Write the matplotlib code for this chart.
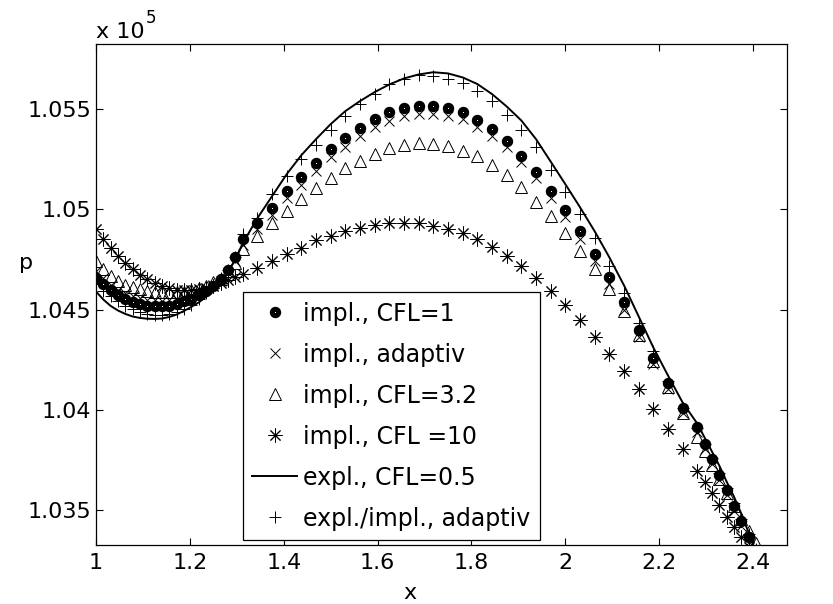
import matplotlib
matplotlib.use('Agg')
import matplotlib.pyplot as plt
import numpy as np

# grid points (fine at both ends, coarse in the middle)
x = [1.0, 1.015625, 1.03125, 1.046875, 1.0625, 1.078125, 1.09375, 1.109375, 1.125,
     1.140625, 1.15625, 1.171875, 1.1875, 1.203125, 1.21875, 1.234375, 1.25, 1.265625,
     1.28125, 1.296875, 1.3125,
     1.34375, 1.375, 1.40625, 1.4375, 1.46875, 1.5, 1.53125, 1.5625, 1.59375, 1.625,
     1.65625, 1.6875, 1.71875, 1.75, 1.78125, 1.8125, 1.84375, 1.875, 1.90625, 1.9375,
     1.96875, 2.0, 2.03125, 2.0625, 2.09375, 2.125, 2.15625, 2.1875, 2.21875, 2.25,
     2.28125, 2.296875, 2.3125, 2.328125, 2.34375, 2.359375, 2.375, 2.390625, 2.40625]

# pressure in Pa
p_impl_cfl1 = [104659, 104625, 104597, 104572, 104554, 104537, 104527, 104520, 104517, 104517,
               104520, 104529, 104540, 104554, 104570, 104590, 104615, 104650, 104695, 104760, 104850,
               104930, 105005, 105092, 105161, 105230, 105300, 105354, 105404, 105449, 105484,
               105504, 105514, 105515, 105504, 105484, 105445, 105399, 105340, 105265, 105184,
               105092, 104997, 104892, 104779, 104661, 104537, 104397, 104259, 104132, 104009,
               103914, 103829, 103754, 103675, 103600, 103520, 103445, 103364, 103285]

p_impl_adapt = [104691, 104655, 104624, 104599, 104581, 104566, 104556, 104549, 104545, 104544,
                104546, 104551, 104559, 104570, 104584, 104601, 104623, 104640, 104680, 104740, 104820,
                104900, 104970, 105055, 105120, 105190, 105263, 105313, 105364, 105409, 105442,
                105464, 105475, 105475, 105467, 105450, 105409, 105364, 105309, 105234, 105154,
                105055, 104960, 104850, 104740, 104625, 104500, 104365, 104230, 104105, 103985,
                103890, 103805, 103730, 103650, 103575, 103495, 103420, 103340, 103270]

p_impl_cfl32 = [104740, 104700, 104665, 104640, 104623, 104610, 104600, 104593, 104588, 104585,
                104585, 104585, 104588, 104595, 104605, 104618, 104635, 104650, 104690, 104730, 104800,
                104865, 104934, 104990, 105050, 105104, 105155, 105204, 105242, 105275, 105304,
                105320, 105329, 105325, 105314, 105292, 105264, 105220, 105170, 105109, 105037,
                104967, 104884, 104792, 104700, 104600, 104492, 104375, 104242, 104114, 103984,
                103865, 103795, 103725, 103655, 103585, 103520, 103455, 103395, 103335]

p_impl_cfl10 = [104900, 104850, 104805, 104765, 104733, 104700, 104673, 104650, 104630, 104615,
                104605, 104598, 104595, 104595, 104600, 104608, 104618, 104630, 104645, 104660, 104678,
                104709, 104742, 104775, 104809, 104845, 104868, 104892, 104908, 104923, 104932,
                104932, 104932, 104917, 104903, 104882, 104850, 104813, 104769, 104717, 104659,
                104592, 104523, 104447, 104365, 104280, 104195, 104105, 104004, 103904, 103804,
                103692, 103640, 103585, 103525, 103467, 103415, 103365, 103315, 103265]

p_expl_cfl05 = [104590, 104550, 104518, 104495, 104478, 104465, 104458, 104454, 104453, 104455,
                104463, 104475, 104493, 104513, 104535, 104563, 104595, 104635, 104685, 104750, 104830,
                104955, 105065, 105175, 105270, 105350, 105425, 105490, 105540, 105585, 105623,
                105653, 105673, 105684, 105678, 105658, 105625, 105575, 105513, 105443, 105350,
                105238, 105125, 105010, 104890, 104760, 104620, 104465, 104310, 104170, 104035,
                103930, 103860, 103790, 103720, 103640, 103565, 103480, 103385, 103285]

p_expl_impl_adapt = [104625, 104592, 104565, 104540, 104520, 104503, 104488, 104478, 104473, 104473,
                     104478, 104488, 104505, 104525, 104550, 104580, 104615, 104655, 104695, 104760, 104875,
                     104959, 105075, 105165, 105250, 105320, 105398, 105464, 105523, 105575, 105623,
                     105652, 105669, 105667, 105652, 105630, 105589, 105542, 105469, 105394, 105311,
                     105194, 105085, 104975, 104855, 104717, 104584, 104434, 104292, 104142, 104009,
                     103910, 103830, 103760, 103685, 103610, 103535, 103455, 103380, 103305]

xticks = [1, 1.2, 1.4, 1.6, 1.8, 2, 2.2, 2.4]
xtick_labels = ['1', '1.2', '1.4', '1.6', '1.8', '2', '2.2', '2.4']
yticks = [1.035, 1.04, 1.045, 1.05, 1.055]
ytick_labels = ['1.035', '1.04', '1.045', '1.05', '1.055']

scale = 1e5
fs = 16

fig = plt.figure(figsize=(8.33, 6.04), dpi=100)
ax = fig.add_axes([0.1152, 0.0977, 0.8295, 0.8295])

ax.plot(x, np.array(p_impl_cfl1) / scale, ls='none', marker='o', ms=4.6, mew=3.6,
        mec='k', mfc='w', label='impl., CFL=1')
ax.plot(x, np.array(p_impl_adapt) / scale, ls='none', marker='x', ms=7, mew=0.7,
        color='k', label='impl., adaptiv')
ax.plot(x, np.array(p_impl_cfl32) / scale, ls='none', marker='^', ms=9, mew=0.7,
        mec='k', mfc='none', label='impl., CFL=3.2')
ax.plot(x, np.array(p_impl_cfl10) / scale, ls='none', marker=(8, 2, 0), ms=10, mew=0.7,
        color='k', label='impl., CFL =10')
ax.plot(x, np.array(p_expl_cfl05) / scale, color='k', lw=1.4, label='expl., CFL=0.5')
ax.plot(x, np.array(p_expl_impl_adapt) / scale, ls='none', marker='+', ms=9, mew=0.7,
        color='k', label='expl./impl., adaptiv')

ax.set_xlim(1, 2.472)
ax.set_ylim(1.03325, 1.05825)
ax.set_xticks(xticks)
ax.set_xticklabels(xtick_labels)
ax.set_yticks(yticks)
ax.set_yticklabels(ytick_labels)
ax.tick_params(direction='in', length=5, width=0.8, top=True, right=True,
               labelsize=fs, colors='k')
ax.tick_params(axis='x', pad=6)
ax.tick_params(axis='y', pad=3.5)
for s in ax.spines.values():
    s.set_linewidth(0.9)

fig.text(410 / 833, 1 - 593 / 604, 'x', fontsize=fs, ha='center', va='center')
fig.text(26 / 833, 1 - 263 / 604, 'p', fontsize=fs, ha='center', va='center')
fig.text(96 / 833, 1 - 38 / 604, 'x 10', fontsize=fs, ha='left', va='baseline')
fig.text(146 / 833, 1 - 23 / 604, '5', fontsize=12, ha='left', va='baseline')

leg = ax.legend(loc='lower left', bbox_to_anchor=(0.2127, 0.01), borderaxespad=0,
                fancybox=False, edgecolor='k', framealpha=1, fontsize=17,
                handlelength=1.9, handletextpad=0.25, borderpad=0.4, labelspacing=0.72)
leg.get_frame().set_linewidth(0.9)

plt.savefig('out.png', dpi=100)
